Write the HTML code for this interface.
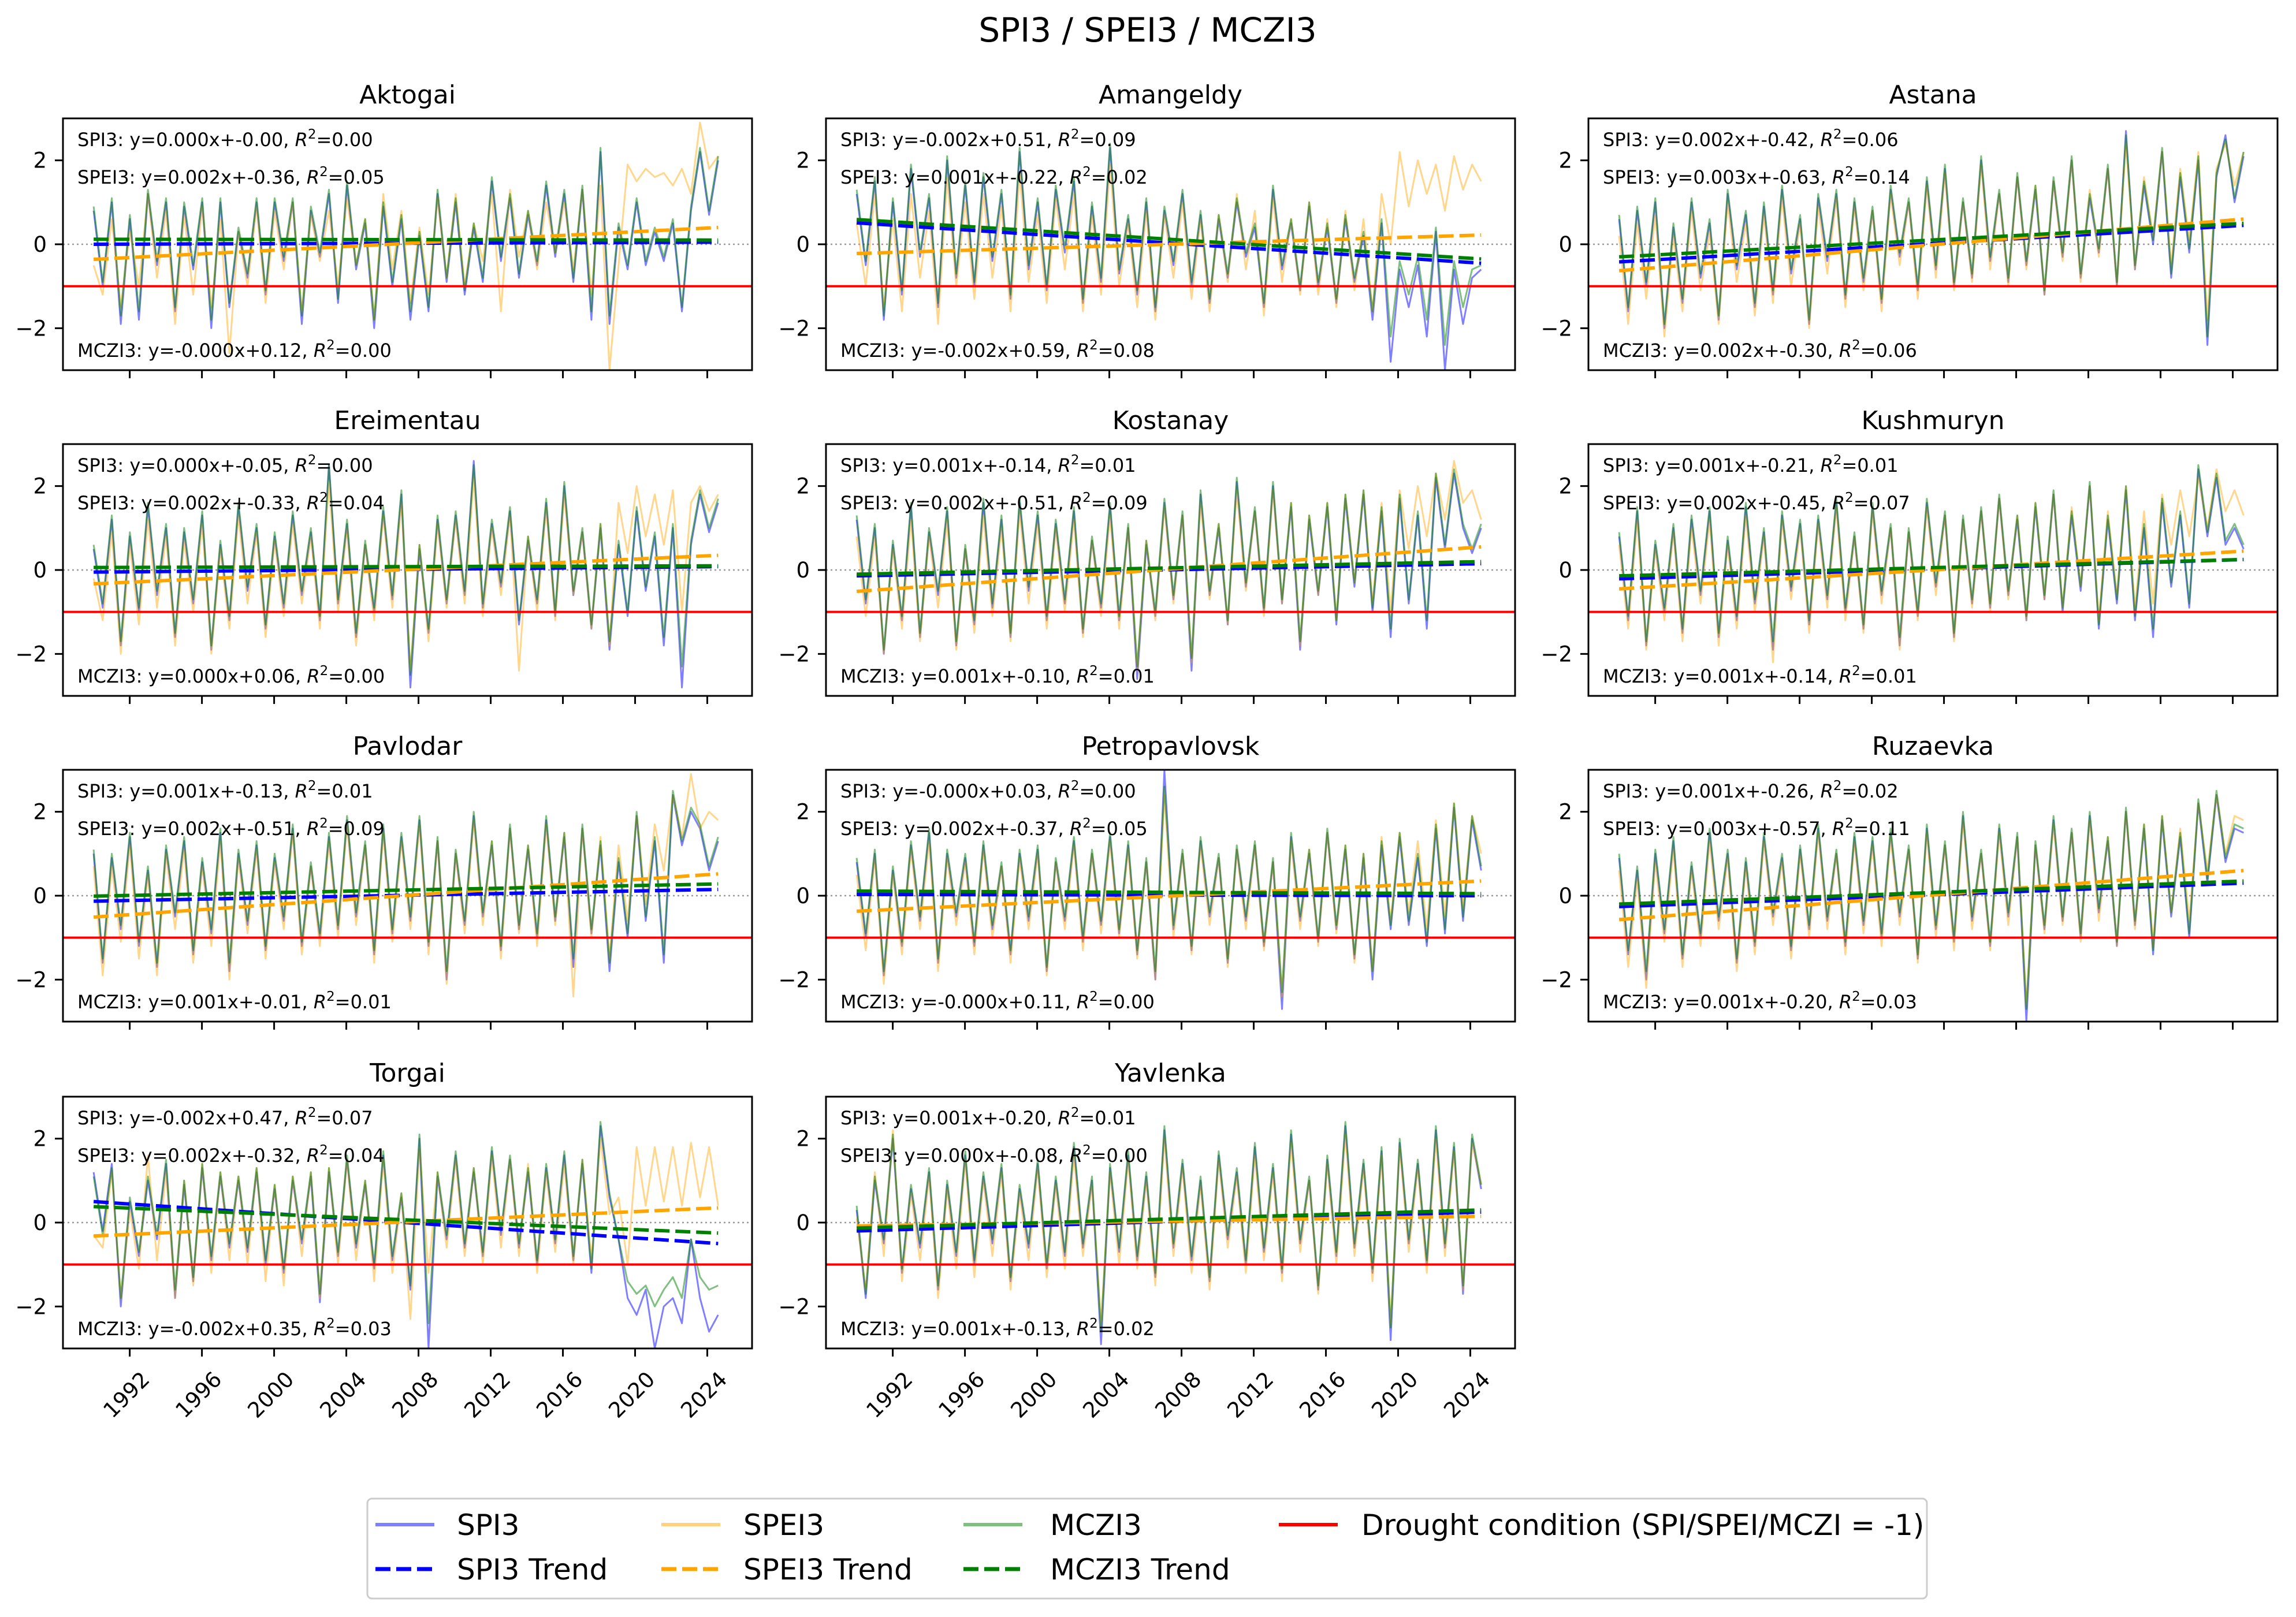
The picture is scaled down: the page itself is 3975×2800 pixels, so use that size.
<!DOCTYPE html>
<html><head><meta charset="utf-8"><style>
html,body{margin:0;padding:0;background:#fff;}
svg{display:block;font-family:"DejaVu Sans","Liberation Sans",sans-serif;}
</style></head><body>
<svg id="fig" width="3975" height="2800" viewBox="0 0 3975 2800" xmlns="http://www.w3.org/2000/svg">
<rect width="3975" height="2800" fill="#fff"/>
<text x="1987" y="72" font-size="58" text-anchor="middle" fill="#000">SPI3 / SPEI3 / MCZI3</text>
<g id="panels"></g>
<g>
<rect x="636" y="2595" width="2700" height="173" rx="8" fill="#fff" stroke="#cccccc" stroke-width="3"/>
<line x1="650" y1="2640" x2="752" y2="2640" stroke="#0000ff" stroke-opacity="0.5" stroke-width="6"/>
<text x="791" y="2658" font-size="50">SPI3</text>
<line x1="1145" y1="2640" x2="1247" y2="2640" stroke="#ffa500" stroke-opacity="0.5" stroke-width="6"/>
<text x="1287" y="2658" font-size="50">SPEI3</text>
<line x1="1668" y1="2640" x2="1770" y2="2640" stroke="#008000" stroke-opacity="0.5" stroke-width="6"/>
<text x="1818" y="2658" font-size="50">MCZI3</text>
<line x1="2214" y1="2640" x2="2316" y2="2640" stroke="#ff0000" stroke-width="6"/>
<text x="2357" y="2658" font-size="50">Drought condition (SPI/SPEI/MCZI = -1)</text>
<line x1="650" y1="2717" x2="752" y2="2717" stroke="#0000ff" stroke-width="7" stroke-dasharray="26,10"/>
<text x="791" y="2735" font-size="50">SPI3 Trend</text>
<line x1="1145" y1="2717" x2="1247" y2="2717" stroke="#ffa500" stroke-width="7" stroke-dasharray="26,10"/>
<text x="1287" y="2735" font-size="50">SPEI3 Trend</text>
<line x1="1668" y1="2717" x2="1770" y2="2717" stroke="#008000" stroke-width="7" stroke-dasharray="26,10"/>
<text x="1818" y="2735" font-size="50">MCZI3 Trend</text>
</g>
</svg>
<script>
const stations = ["Aktogai","Amangeldy","Astana","Ereimentau","Kostanay","Kushmuryn","Pavlodar","Petropavlovsk","Ruzaevka","Torgai","Yavlenka"];
const yearStart = 1990.0;
const yearEnd = 2024.6;
const xTicks = [1992,1996,2000,2004,2008,2012,2016,2020,2024];
const yTicks = [-2,0,2];
const droughtLevel = -1;

const spi = [
[0.8,-1.0,1.0,-1.9,0.6,-1.8,1.2,-0.5,1.0,-1.6,0.9,-0.6,1.0,-2.0,1.0,-1.5,0.3,-0.8,1.0,-1.2,1.0,-0.4,1.0,-1.9,0.8,-0.3,1.2,-1.4,1.4,-0.6,0.5,-2.0,0.9,-1.0,0.6,-1.8,0.2,-1.6,1.2,-0.9,1.0,-1.2,0.4,-0.9,1.5,-0.4,1.1,-0.8,0.7,-0.5,1.4,-0.3,1.2,-0.9,1.3,-1.8,2.2,-1.9,0.4,-0.6,1.0,-0.5,0.3,-0.4,0.5,-1.6,0.8,2.2,0.7,2.0],
[1.2,-0.5,1.5,-1.8,1.0,-1.2,1.8,-0.3,1.1,-1.5,2.0,-0.8,1.4,-1.0,1.6,-0.4,1.2,-1.3,2.2,-0.6,1.0,-1.1,1.3,-0.2,1.5,-1.4,0.9,-0.9,2.3,-0.7,0.6,-1.2,1.0,-1.6,0.8,-0.5,1.2,-1.0,0.7,-1.4,0.6,-0.8,1.0,-0.3,0.4,-1.5,1.3,-0.6,0.5,-1.1,0.9,-1.0,0.4,-1.4,0.6,-0.9,0.2,-1.8,0.5,-2.8,-0.6,-1.5,-0.5,-2.2,0.3,-3.0,-0.6,-1.9,-0.8,-0.6],
[0.6,-1.6,0.8,-1.0,1.0,-2.0,0.4,-1.4,1.0,-0.8,0.5,-1.8,1.2,-0.6,0.7,-1.5,0.9,-1.2,1.3,-0.7,0.6,-1.9,1.1,-0.4,1.2,-1.3,1.0,-0.9,0.8,-1.4,1.3,-0.3,1.0,-1.1,1.5,-0.6,1.8,-1.0,1.0,-0.8,2.0,-0.4,1.2,-0.9,1.6,-0.5,1.3,-1.2,1.5,-0.3,2.0,-0.8,1.1,-0.2,1.8,-1.0,2.7,-0.6,1.4,0.0,2.2,-0.8,1.6,-0.2,2.0,-2.4,1.6,2.6,1.0,2.1],
[0.5,-0.9,1.2,-1.8,0.8,-1.0,1.5,-0.6,1.0,-1.6,0.9,-0.8,1.3,-1.9,0.6,-1.2,1.5,-0.5,1.0,-1.4,0.8,-0.9,1.3,-0.6,0.9,-1.2,2.5,-0.8,1.1,-1.6,0.6,-1.0,1.4,-0.7,1.8,-2.8,0.5,-1.5,1.2,-0.8,1.3,-0.6,2.6,-0.9,1.1,-0.4,1.4,-1.3,0.7,-0.8,1.6,-1.1,2.0,-0.6,0.9,-1.4,1.0,-1.9,0.6,-1.1,1.4,-0.5,0.8,-1.8,1.0,-2.8,0.6,1.8,0.9,1.6],
[1.2,-0.8,1.0,-2.0,0.6,-1.2,1.5,-1.6,0.9,-0.6,1.4,-1.8,0.5,-1.3,1.6,-0.9,1.2,-1.6,1.6,-0.5,1.3,-1.2,1.1,-0.8,1.4,-1.5,0.7,-0.9,1.5,-1.2,1.0,-2.6,0.6,-1.1,1.6,-0.7,1.3,-2.4,1.8,-0.6,1.0,-1.3,2.1,-0.4,1.4,-1.0,2.0,-0.8,1.5,-1.9,1.2,-0.6,1.5,-1.3,1.7,-0.4,1.8,-1.0,1.4,-1.6,1.7,-0.8,1.3,-1.4,2.2,0.5,2.3,1.0,0.4,1.0],
[0.8,-1.2,1.4,-1.8,0.6,-1.0,1.0,-1.5,1.2,-0.6,1.4,-1.6,0.7,-1.2,1.5,-0.8,0.9,-1.9,1.3,-0.5,1.1,-1.3,1.2,-0.7,1.6,-1.0,0.8,-1.4,1.5,-0.6,1.0,-1.8,0.9,-1.1,1.6,-0.4,1.3,-1.6,1.2,-0.8,1.4,-0.9,1.7,-0.6,1.2,-1.2,1.5,-0.7,1.8,-1.0,1.3,-0.5,2.0,-1.4,1.2,-0.8,1.9,-1.2,1.0,-1.6,1.6,-0.4,1.3,-0.9,2.4,0.8,2.2,0.6,1.0,0.5],
[1.0,-1.6,0.9,-0.8,1.4,-1.2,0.6,-1.7,1.1,-0.5,1.3,-1.4,0.8,-0.9,1.5,-1.8,1.0,-0.7,1.2,-1.3,0.9,-0.6,1.6,-1.2,0.7,-1.0,1.4,-0.8,1.8,-0.5,1.2,-1.4,1.6,-0.9,1.4,-0.6,1.8,-1.2,1.3,-2.0,1.0,-0.7,1.9,-0.5,1.2,-1.3,1.6,-0.8,1.1,-1.0,1.8,-0.6,1.4,-1.7,1.6,-0.9,1.2,-1.8,0.8,-1.0,1.9,-0.6,1.3,-1.6,2.4,1.2,2.0,1.6,0.6,1.3],
[0.8,-1.0,1.0,-1.9,0.6,-1.2,1.2,-0.6,1.5,-1.6,1.0,-0.5,0.9,-1.2,1.2,-0.8,0.7,-1.4,1.0,-0.6,1.1,-1.8,0.8,-0.6,1.3,-1.1,1.0,-0.7,1.4,-0.9,1.2,-1.4,0.8,-2.0,3.0,-0.8,1.0,-1.3,1.3,-0.5,0.9,-1.6,1.1,-0.6,1.2,-1.2,0.8,-2.7,1.4,-0.6,1.0,-1.1,1.5,-0.8,1.1,-1.5,0.9,-2.0,1.2,-0.8,1.4,-0.7,0.9,-1.2,1.6,-0.9,2.1,-0.6,1.8,0.6],
[0.9,-1.4,0.6,-2.0,1.0,-0.9,1.3,-1.5,0.7,-1.0,1.5,-0.6,1.0,-1.6,0.8,-1.2,1.4,-0.5,0.9,-1.3,1.1,-0.8,1.6,-0.6,1.0,-1.2,1.4,-0.7,1.3,-1.0,1.5,-0.5,1.1,-1.5,1.6,-0.8,1.2,-1.1,1.9,-0.6,1.0,-1.2,1.6,-0.5,1.4,-3.0,1.2,-0.8,1.8,-0.6,1.5,-1.0,1.9,-0.4,1.3,-1.2,2.0,-0.7,1.6,-1.4,1.8,-0.5,1.4,-1.0,2.2,0.3,2.4,0.8,1.6,1.5],
[1.2,-0.2,1.4,-2.0,0.5,-0.8,1.0,-0.4,1.4,-1.8,0.9,-1.4,1.3,-0.9,1.1,-0.6,1.0,-0.7,1.2,-1.0,0.8,-1.2,1.0,-0.5,1.1,-1.9,1.2,-0.8,1.5,-0.6,0.9,-1.1,1.6,-0.9,0.6,-1.6,2.0,-3.0,1.1,-0.4,1.6,-0.6,1.2,-0.8,1.7,-0.3,1.5,-0.6,1.2,-1.0,1.3,-0.5,1.6,-0.9,1.4,-1.2,2.3,0.6,-0.4,-1.8,-2.2,-1.6,-3.0,-2.0,-1.8,-2.4,-0.4,-1.8,-2.6,-2.2],
[0.3,-1.8,1.0,-0.5,2.0,-1.2,0.8,-0.6,1.2,-1.6,0.9,-0.8,1.6,-1.0,1.1,-0.5,1.3,-1.4,0.8,-0.6,1.4,-1.1,1.0,-0.8,1.8,-0.6,1.0,-2.9,1.3,-0.7,1.6,-0.9,1.1,-1.3,2.2,-0.6,1.4,-0.9,1.0,-1.4,1.6,-0.4,1.2,-1.0,1.8,-0.7,1.3,-1.2,2.1,-0.5,1.0,-1.6,1.5,-0.8,2.3,-0.6,1.4,-1.2,1.7,-2.8,1.9,-0.5,1.4,-1.0,2.2,-0.6,1.8,-1.7,2.0,0.8]
];

const spei = [
[-0.5,-1.2,0.6,-1.5,0.3,-1.0,1.2,-0.8,0.8,-1.9,0.7,-1.2,0.9,-1.5,0.6,-2.6,0.3,-1.0,0.9,-1.4,0.8,-0.6,1.0,-1.6,0.7,-0.4,0.8,-1.0,1.1,-0.5,0.6,-1.8,1.2,-0.6,0.8,-1.4,0.4,-1.2,1.1,-0.8,1.2,-1.0,0.5,-0.4,1.2,-1.6,1.3,-0.3,0.8,-0.6,1.0,-0.2,1.0,-0.6,1.3,-1.2,1.4,-3.0,-0.5,1.9,1.5,1.8,1.6,1.7,1.4,1.8,1.2,2.9,1.8,2.1],
[0.5,-1.0,1.2,-1.5,0.6,-1.6,1.2,-0.8,0.8,-1.9,1.6,-1.0,1.0,-1.3,1.2,-0.8,0.9,-1.6,1.7,-0.9,0.7,-1.4,1.1,-0.6,1.2,-1.6,0.7,-1.2,1.9,-1.0,0.5,-1.5,0.8,-1.8,0.7,-0.8,1.0,-1.3,0.6,-1.6,0.7,-0.9,1.2,-0.6,0.8,-1.7,1.1,-0.9,0.6,-1.2,1.0,-1.2,0.6,-1.5,0.8,-1.1,0.6,-1.6,1.2,0.0,2.2,0.9,2.0,1.2,1.9,0.8,2.1,1.3,1.9,1.5],
[0.2,-1.9,0.5,-1.3,0.7,-2.2,0.2,-1.6,0.8,-1.1,0.3,-1.9,1.0,-0.9,0.5,-1.7,0.7,-1.4,1.1,-1.0,0.5,-2.0,0.9,-0.7,1.1,-1.5,0.9,-1.1,0.8,-1.6,1.2,-0.5,1.0,-1.3,1.4,-0.8,1.7,-1.1,1.0,-0.9,1.9,-0.6,1.2,-1.0,1.6,-0.6,1.4,-1.2,1.5,-0.4,2.0,-0.9,1.3,-0.3,1.8,-1.0,2.4,-0.6,1.6,0.2,2.2,-0.5,1.8,0.1,2.2,-1.8,1.8,2.4,1.4,2.2],
[-0.2,-1.2,0.9,-2.0,0.6,-1.3,1.2,-0.9,0.8,-1.8,0.7,-1.0,1.1,-2.0,0.5,-1.4,1.3,-0.8,0.9,-1.6,0.7,-1.1,1.1,-0.8,0.8,-1.4,2.1,-1.0,1.0,-1.8,0.6,-1.2,1.3,-0.9,1.6,-2.4,0.6,-1.7,1.1,-0.9,1.2,-0.8,2.2,-1.1,1.0,-0.6,1.3,-2.4,0.8,-1.0,1.5,-1.2,1.8,-0.6,0.9,-1.4,1.1,-1.8,1.6,0.4,2.0,0.8,1.8,0.6,1.9,-1.0,1.6,2.0,1.4,1.8],
[0.8,-1.1,0.8,-2.0,0.5,-1.4,1.2,-1.7,0.8,-0.9,1.2,-1.9,0.5,-1.5,1.3,-1.1,1.0,-1.7,1.4,-0.8,1.1,-1.4,1.0,-1.0,1.2,-1.6,0.7,-1.1,1.3,-1.4,1.0,-2.4,0.7,-1.2,1.5,-0.8,1.3,-2.2,1.6,-0.7,1.1,-1.3,1.9,-0.5,1.4,-1.1,1.9,-0.8,1.6,-1.8,1.3,-0.6,1.6,-1.2,1.8,-0.3,1.9,-0.8,1.6,-1.0,1.9,0.5,2.0,0.8,2.3,1.2,2.6,1.6,1.9,1.2],
[0.6,-1.4,1.2,-1.9,0.5,-1.2,0.9,-1.7,1.0,-0.8,1.2,-1.8,0.6,-1.4,1.3,-1.0,0.8,-2.2,1.2,-0.7,1.0,-1.5,1.1,-0.9,1.5,-1.2,0.8,-1.5,1.4,-0.8,1.0,-1.9,0.9,-1.2,1.5,-0.6,1.3,-1.7,1.2,-0.9,1.4,-1.0,1.7,-0.7,1.3,-1.2,1.6,-0.7,1.8,-0.9,1.5,-0.4,2.0,-1.2,1.4,-0.6,2.0,-0.9,1.4,-0.8,1.8,0.6,1.9,0.8,2.2,1.0,2.4,1.4,1.9,1.3],
[0.7,-1.9,0.7,-1.1,1.2,-1.5,0.5,-1.9,1.0,-0.8,1.1,-1.6,0.7,-1.2,1.3,-2.0,0.9,-0.9,1.1,-1.5,0.8,-0.8,1.5,-1.4,0.7,-1.2,1.3,-1.0,1.7,-0.7,1.2,-1.6,1.5,-1.1,1.3,-0.8,1.7,-1.4,1.3,-2.1,1.0,-0.9,1.8,-0.7,1.3,-1.5,1.6,-0.9,1.2,-1.2,1.7,-0.7,1.5,-2.4,1.6,-1.0,1.4,-1.5,1.2,-0.6,1.9,-0.2,1.7,0.6,2.4,1.4,2.9,1.6,2.0,1.8],
[0.5,-1.3,0.9,-2.1,0.5,-1.4,1.1,-0.8,1.3,-1.8,0.9,-0.7,0.8,-1.4,1.1,-1.0,0.7,-1.6,0.9,-0.8,1.0,-1.9,0.8,-0.8,1.2,-1.3,1.0,-0.9,1.3,-1.0,1.1,-1.5,0.8,-2.0,2.4,-1.0,1.0,-1.4,1.2,-0.7,0.9,-1.7,1.1,-0.8,1.2,-1.3,0.8,-2.4,1.3,-0.8,1.1,-1.2,1.5,-0.9,1.2,-1.6,1.0,-1.8,1.4,-0.6,1.5,-0.4,1.3,-0.8,1.8,-0.5,2.2,-0.3,1.9,1.0],
[0.6,-1.7,0.4,-2.2,0.8,-1.1,1.1,-1.7,0.6,-1.2,1.3,-0.8,0.9,-1.8,0.7,-1.4,1.3,-0.7,0.8,-1.5,1.0,-1.0,1.5,-0.8,1.0,-1.4,1.3,-0.9,1.2,-1.2,1.4,-0.7,1.1,-1.6,1.5,-1.0,1.2,-1.3,1.8,-0.8,1.0,-1.3,1.5,-0.7,1.4,-2.6,1.2,-0.9,1.7,-0.7,1.5,-1.1,1.8,-0.6,1.4,-1.2,2.0,-0.8,1.7,-1.2,1.9,-0.4,1.6,-0.6,2.2,0.6,2.4,1.0,1.9,1.8],
[-0.3,-0.6,1.2,-1.8,0.3,-1.1,1.6,-0.9,1.2,-1.8,1.0,-1.5,1.4,-1.2,1.2,-0.9,1.1,-1.0,1.3,-1.4,0.9,-1.5,1.1,-0.8,1.2,-1.8,1.3,-1.0,1.5,-0.9,1.0,-1.4,1.5,-1.2,0.7,-2.3,1.8,-1.2,1.2,-0.6,1.5,-0.8,1.3,-1.0,1.6,-0.6,1.5,-0.8,1.4,-1.2,1.2,-0.7,1.4,-1.0,1.5,-0.9,2.0,0.2,0.6,-1.0,1.8,0.4,1.8,0.5,1.8,0.4,1.9,0.6,1.8,0.4],
[0.1,-1.6,1.2,-0.8,2.2,-1.4,0.7,-0.9,1.1,-1.8,0.8,-1.1,1.5,-1.3,1.0,-0.8,1.2,-1.6,0.7,-0.9,1.3,-1.3,0.9,-1.1,1.6,-0.8,0.9,-2.4,1.2,-1.0,1.5,-1.1,1.0,-1.5,2.0,-0.8,1.3,-1.2,0.9,-1.6,1.5,-0.6,1.1,-1.2,1.6,-0.9,1.2,-1.4,1.9,-0.7,1.0,-1.7,1.4,-1.0,2.1,-0.8,1.3,-1.4,1.6,-2.4,1.8,-0.7,1.3,-1.2,2.0,-0.8,1.7,-1.6,1.9,0.9]
];

const mczi = [
[0.9,-0.9,1.1,-1.7,0.7,-1.6,1.3,-0.4,1.1,-1.5,1.0,-0.5,1.1,-1.8,1.1,-1.4,0.4,-0.7,1.1,-1.1,1.1,-0.3,1.1,-1.7,0.9,-0.2,1.3,-1.3,1.5,-0.5,0.6,-1.8,1.0,-0.9,0.7,-1.6,0.3,-1.5,1.3,-0.8,1.1,-1.1,0.5,-0.8,1.6,-0.3,1.2,-0.7,0.8,-0.4,1.5,-0.2,1.3,-0.8,1.4,-1.6,2.3,-1.7,0.5,-0.5,1.1,-0.4,0.4,-0.3,0.6,-1.5,0.9,2.3,0.8,2.1],
[1.3,-0.4,1.6,-1.7,1.1,-1.1,1.9,-0.2,1.2,-1.4,2.1,-0.7,1.5,-0.9,1.7,-0.3,1.3,-1.2,2.3,-0.5,1.1,-1.0,1.4,-0.1,1.6,-1.3,1.0,-0.8,2.4,-0.6,0.7,-1.1,1.1,-1.5,0.9,-0.4,1.3,-0.9,0.8,-1.3,0.7,-0.7,1.1,-0.2,0.5,-1.4,1.4,-0.5,0.6,-1.0,1.0,-0.9,0.5,-1.3,0.7,-0.8,0.3,-1.6,0.6,-2.2,-0.4,-1.2,-0.3,-1.8,0.4,-2.4,-0.4,-1.5,-0.6,-0.5],
[0.7,-1.5,0.9,-0.9,1.1,-1.9,0.5,-1.3,1.1,-0.7,0.6,-1.7,1.3,-0.5,0.8,-1.4,1.0,-1.1,1.4,-0.6,0.7,-1.8,1.2,-0.3,1.3,-1.2,1.1,-0.8,0.9,-1.3,1.4,-0.2,1.1,-1.0,1.6,-0.5,1.9,-0.9,1.1,-0.7,2.1,-0.3,1.3,-0.8,1.7,-0.4,1.4,-1.1,1.6,-0.2,2.1,-0.7,1.2,-0.1,1.9,-0.9,2.6,-0.5,1.5,0.1,2.3,-0.7,1.7,-0.1,2.1,-2.2,1.7,2.5,1.1,2.2],
[0.6,-0.8,1.3,-1.7,0.9,-0.9,1.6,-0.5,1.1,-1.5,1.0,-0.7,1.4,-1.8,0.7,-1.1,1.6,-0.4,1.1,-1.3,0.9,-0.8,1.4,-0.5,1.0,-1.1,2.5,-0.7,1.2,-1.5,0.7,-0.9,1.5,-0.6,1.9,-2.5,0.6,-1.4,1.3,-0.7,1.4,-0.5,2.5,-0.8,1.2,-0.3,1.5,-1.2,0.8,-0.7,1.7,-1.0,2.1,-0.5,1.0,-1.3,1.1,-1.7,0.7,-1.0,1.5,-0.4,0.9,-1.6,1.1,-2.3,0.7,1.9,1.0,1.7],
[1.3,-0.7,1.1,-1.9,0.7,-1.1,1.6,-1.5,1.0,-0.5,1.5,-1.7,0.6,-1.2,1.7,-0.8,1.3,-1.5,1.7,-0.4,1.4,-1.1,1.2,-0.7,1.5,-1.4,0.8,-0.8,1.6,-1.1,1.1,-2.3,0.7,-1.0,1.7,-0.6,1.4,-2.1,1.9,-0.5,1.1,-1.2,2.2,-0.3,1.5,-0.9,2.1,-0.7,1.6,-1.7,1.3,-0.5,1.6,-1.2,1.8,-0.3,1.9,-0.9,1.5,-1.4,1.8,-0.7,1.4,-1.2,2.3,0.6,2.4,1.1,0.5,1.1],
[0.9,-1.1,1.5,-1.7,0.7,-0.9,1.1,-1.4,1.3,-0.5,1.5,-1.5,0.8,-1.1,1.6,-0.7,1.0,-1.7,1.4,-0.4,1.2,-1.2,1.3,-0.6,1.7,-0.9,0.9,-1.3,1.6,-0.5,1.1,-1.6,1.0,-1.0,1.7,-0.3,1.4,-1.5,1.3,-0.7,1.5,-0.8,1.8,-0.5,1.3,-1.1,1.6,-0.6,1.9,-0.9,1.4,-0.4,2.1,-1.3,1.3,-0.7,2.0,-1.1,1.1,-1.4,1.7,-0.3,1.4,-0.8,2.5,0.9,2.3,0.7,1.1,0.6],
[1.1,-1.5,1.0,-0.7,1.5,-1.1,0.7,-1.6,1.2,-0.4,1.4,-1.3,0.9,-0.8,1.6,-1.6,1.1,-0.6,1.3,-1.2,1.0,-0.5,1.7,-1.1,0.8,-0.9,1.5,-0.7,1.9,-0.4,1.3,-1.3,1.7,-0.8,1.5,-0.5,1.9,-1.1,1.4,-1.8,1.1,-0.6,2.0,-0.4,1.3,-1.2,1.7,-0.7,1.2,-0.9,1.9,-0.5,1.5,-1.5,1.7,-0.8,1.3,-1.6,0.9,-0.9,2.0,-0.5,1.4,-1.4,2.5,1.3,2.1,1.7,0.7,1.4],
[0.9,-0.9,1.1,-1.8,0.7,-1.1,1.3,-0.5,1.6,-1.5,1.1,-0.4,1.0,-1.1,1.3,-0.7,0.8,-1.3,1.1,-0.5,1.2,-1.7,0.9,-0.5,1.4,-1.0,1.1,-0.6,1.5,-0.8,1.3,-1.3,0.9,-1.8,2.6,-0.7,1.1,-1.2,1.4,-0.4,1.0,-1.5,1.2,-0.5,1.3,-1.1,0.9,-2.3,1.5,-0.5,1.1,-1.0,1.6,-0.7,1.2,-1.4,1.0,-1.8,1.3,-0.7,1.5,-0.6,1.0,-1.1,1.7,-0.8,2.2,-0.5,1.9,0.7],
[1.0,-1.3,0.7,-1.8,1.1,-0.8,1.4,-1.4,0.8,-0.9,1.6,-0.5,1.1,-1.5,0.9,-1.1,1.5,-0.4,1.0,-1.2,1.2,-0.7,1.7,-0.5,1.1,-1.1,1.5,-0.6,1.4,-0.9,1.6,-0.4,1.2,-1.4,1.7,-0.7,1.3,-1.0,2.0,-0.5,1.1,-1.1,1.7,-0.4,1.5,-2.7,1.3,-0.7,1.9,-0.5,1.6,-0.9,2.0,-0.3,1.4,-1.1,2.1,-0.6,1.7,-1.3,1.9,-0.4,1.5,-0.9,2.3,0.4,2.5,0.9,1.7,1.6],
[1.1,-0.3,1.3,-1.8,0.6,-0.7,1.1,-0.3,1.5,-1.6,1.0,-1.3,1.4,-0.8,1.2,-0.5,1.1,-0.6,1.3,-0.9,0.9,-1.1,1.1,-0.4,1.2,-1.7,1.3,-0.7,1.6,-0.5,1.0,-1.0,1.7,-0.8,0.7,-1.5,2.1,-2.4,1.2,-0.3,1.7,-0.5,1.3,-0.7,1.8,-0.2,1.6,-0.5,1.3,-0.9,1.4,-0.4,1.7,-0.8,1.5,-1.1,2.4,0.7,-0.4,-1.4,-1.7,-1.5,-2.0,-1.6,-1.3,-1.8,-0.4,-1.3,-1.6,-1.5],
[0.4,-1.7,1.1,-0.4,2.1,-1.1,0.9,-0.5,1.3,-1.5,1.0,-0.7,1.7,-0.9,1.2,-0.4,1.4,-1.3,0.9,-0.5,1.5,-1.0,1.1,-0.7,1.9,-0.5,1.1,-2.6,1.4,-0.6,1.7,-0.8,1.2,-1.2,2.3,-0.5,1.5,-0.8,1.1,-1.3,1.7,-0.3,1.3,-0.9,1.9,-0.6,1.4,-1.1,2.2,-0.4,1.1,-1.5,1.6,-0.7,2.4,-0.5,1.5,-1.1,1.8,-2.5,2.0,-0.4,1.5,-0.9,2.3,-0.5,1.9,-1.5,2.1,0.9]
];

const spiTrend  = [[0.00,0.05],[0.51,-0.45],[-0.42,0.45],[-0.05,0.08],[-0.14,0.15],[-0.21,0.25],[-0.13,0.15],[0.03,0.00],[-0.26,0.30],[0.50,-0.50],[-0.20,0.25]];
const speiTrend = [[-0.36,0.40],[-0.22,0.22],[-0.63,0.60],[-0.33,0.35],[-0.51,0.55],[-0.45,0.45],[-0.51,0.52],[-0.37,0.35],[-0.57,0.60],[-0.32,0.35],[-0.08,0.15]];
const mcziTrend = [[0.12,0.10],[0.59,-0.35],[-0.30,0.50],[0.06,0.10],[-0.10,0.20],[-0.14,0.25],[-0.01,0.28],[0.11,0.05],[-0.20,0.35],[0.38,-0.25],[-0.13,0.30]];

const spiEq  = ["y=0.000x+-0.00, |0.00","y=-0.002x+0.51, |0.09","y=0.002x+-0.42, |0.06","y=0.000x+-0.05, |0.00","y=0.001x+-0.14, |0.01","y=0.001x+-0.21, |0.01","y=0.001x+-0.13, |0.01","y=-0.000x+0.03, |0.00","y=0.001x+-0.26, |0.02","y=-0.002x+0.47, |0.07","y=0.001x+-0.20, |0.01"];
const speiEq = ["y=0.002x+-0.36, |0.05","y=0.001x+-0.22, |0.02","y=0.003x+-0.63, |0.14","y=0.002x+-0.33, |0.04","y=0.002x+-0.51, |0.09","y=0.002x+-0.45, |0.07","y=0.002x+-0.51, |0.09","y=0.002x+-0.37, |0.05","y=0.003x+-0.57, |0.11","y=0.002x+-0.32, |0.04","y=0.000x+-0.08, |0.00"];
const mcziEq = ["y=-0.000x+0.12, |0.00","y=-0.002x+0.59, |0.08","y=0.002x+-0.30, |0.06","y=0.000x+0.06, |0.00","y=0.001x+-0.10, |0.01","y=0.001x+-0.14, |0.01","y=0.001x+-0.01, |0.01","y=-0.000x+0.11, |0.00","y=0.001x+-0.20, |0.03","y=-0.002x+0.35, |0.03","y=0.001x+-0.13, |0.02"];

const NS = "http://www.w3.org/2000/svg";
const colLeft = [109, 1430, 2750];
const rowTop = [205, 769, 1333, 1899];
const PW = 1193, PH = 436;
const XMIN = 1988.3, XMAX = 2026.48, YMIN = -3, YMAX = 3;
const root = document.getElementById("panels");

function mk(tag, attrs, parent) {
  const e = document.createElementNS(NS, tag);
  for (const k in attrs) e.setAttribute(k, attrs[k]);
  parent.appendChild(e);
  return e;
}

function addEq(g, x, y, label, eq) {
  const parts = eq.split("|");
  const t = mk("text", {x: x, y: y, "font-size": 32, fill: "#000"}, g);
  
  
  t.appendChild(document.createTextNode(label + ": " + parts[0]));
  const r = mk("tspan", {"font-style": "italic"}, t); r.textContent = "R";
  const s = mk("tspan", {dy: -13, "font-size": 23}, t); s.textContent = "2";
  const v = mk("tspan", {dy: 13}, t); v.textContent = "=" + parts[1];
}

stations.forEach((name, i) => {
  const L = colLeft[i % 3], T = rowTop[Math.floor(i / 3)];
  const sx = yr => L + (yr - XMIN) / (XMAX - XMIN) * PW;
  const sy = v => T + (YMAX - v) / (YMAX - YMIN) * PH;
  const g = mk("g", {}, root);
  
  
  const cid = "clip" + i;
  const cp = mk("clipPath", {id: cid}, g);
  mk("rect", {x: L, y: T, width: PW, height: PH}, cp);

  const title = mk("text", {x: L + PW / 2, y: T - 26, "font-size": 44, "text-anchor": "middle", fill: "#000"}, g);
  
  
  title.textContent = name;

  const zl = mk("line", {x1: L, x2: L + PW, y1: sy(0), y2: sy(0), stroke: "#999", "stroke-width": 2.5, "stroke-dasharray": "3,5"}, g);
  
  

  const dg = mk("g", {"clip-path": "url(#" + cid + ")"}, g);
  const series = [[spi[i], "#0000ff", 0.5, "spi3-line"], [spei[i], "#ffa500", 0.45, "spei3-line"], [mczi[i], "#008000", 0.5, "mczi3-line"]];
  series.forEach(s => {
    const arr = s[0], n = arr.length;
    let d = "";
    arr.forEach((v, k) => {
      const yr = yearStart + (yearEnd - yearStart) * k / (n - 1);
      d += (k ? "L" : "M") + sx(yr).toFixed(1) + "," + sy(v).toFixed(1);
    });
    const p = mk("path", {d: d, fill: "none", stroke: s[1], "stroke-opacity": s[2], "stroke-width": 3, "stroke-linejoin": "round"}, dg);
    
    
  });

  const dl = mk("line", {x1: L, x2: L + PW, y1: sy(droughtLevel), y2: sy(droughtLevel), stroke: "#ff0000", "stroke-width": 4}, g);
  
  

  const trends = [[spiTrend[i], "#0000ff", "spi3-trend"], [speiTrend[i], "#ffa500", "spei3-trend"], [mcziTrend[i], "#008000", "mczi3-trend"]];
  trends.forEach(tr => {
    const l = mk("line", {x1: sx(yearStart), x2: sx(yearEnd), y1: sy(tr[0][0]), y2: sy(tr[0][1]), stroke: tr[1], "stroke-width": 6, "stroke-dasharray": "26,10"}, dg);
    
    
  });

  const fr = mk("rect", {x: L, y: T, width: PW, height: PH, fill: "none", stroke: "#000", "stroke-width": 3}, g);
  
  

  yTicks.forEach(v => {
    mk("line", {x1: L - 14, x2: L, y1: sy(v), y2: sy(v), stroke: "#000", "stroke-width": 3}, g);
    const t = mk("text", {x: L - 28, y: sy(v) + 13, "font-size": 37, "text-anchor": "end", fill: "#000"}, g);
    
    
    t.textContent = v < 0 ? "\u2212" + Math.abs(v) : String(v);
  });
  const showX = (i >= 9);
  xTicks.forEach(yr => {
    mk("line", {x1: sx(yr), x2: sx(yr), y1: T + PH, y2: T + PH + 14, stroke: "#000", "stroke-width": 3}, g);
    if (showX) {
      const cx = sx(yr) - 6, cy = T + PH + 80;
      const t = mk("text", {x: cx, y: cy + 13, "font-size": 37, "text-anchor": "middle", fill: "#000", transform: "rotate(-45 " + cx + " " + cy + ")"}, g);
      
      
      t.textContent = String(yr);
    }
  });

  addEq(g, L + 25, T + 48, "SPI3", spiEq[i]);
  addEq(g, L + 25, T + 113, "SPEI3", speiEq[i]);
  addEq(g, L + 25, T + 413, "MCZI3", mcziEq[i]);
});
</script>
</body></html>
